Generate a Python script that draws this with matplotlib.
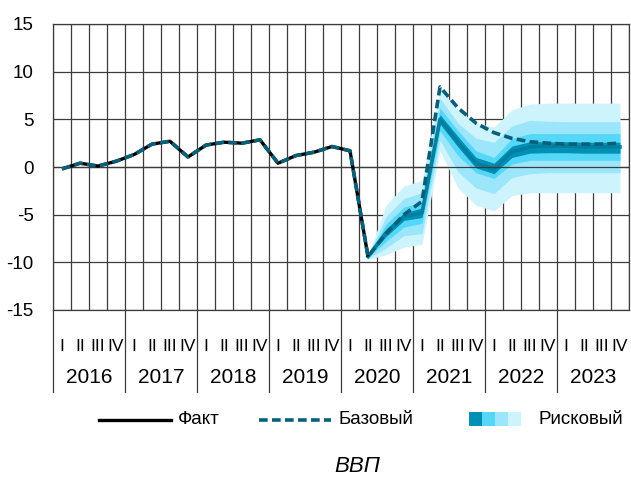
import numpy as np
import matplotlib
matplotlib.use("Agg")
import matplotlib.pyplot as plt
from matplotlib.transforms import blended_transform_factory
from matplotlib.patches import Rectangle

# quarters 2016Q1 .. 2023Q4
years = ["2016", "2017", "2018", "2019", "2020", "2021", "2022", "2023"]
quarter_names = ["I", "II", "III", "IV"]

# actual GDP, 2016Q1 .. 2020Q2
fact = [-0.2, 0.4, 0.1, 0.6, 1.3, 2.4, 2.7, 1.05, 2.3, 2.6, 2.5, 2.85,
        0.4, 1.2, 1.55, 2.15, 1.7, -9.4]

# baseline forecast, 2020Q3 .. 2023Q4
base_fc = [-7.0, -5.0, -3.6, 8.4, 6.2, 4.6, 3.6, 3.0, 2.65, 2.5,
           2.4, 2.4, 2.4, 2.5]

# risk scenario fan, 2020Q2 .. 2023Q4
median = [-9.4, -6.9, -5.2, -4.8, 5.0, 2.6, 0.4, -0.2, 1.6, 2.1, 2.2, 2.2, 2.1, 2.1, 2.1]
dark_lo = [-9.4, -7.3, -5.6, -5.3, 4.5, 2.1, -0.1, -0.7, 1.0, 1.45, 1.5, 1.5, 1.45, 1.45, 1.45]
dark_hi = [-9.4, -6.5, -4.8, -4.3, 5.5, 3.2, 1.0, 0.4, 2.2, 2.65, 2.65, 2.65, 2.6, 2.6, 2.6]
mid_lo = [-9.5, -7.8, -6.3, -5.9, 3.8, 1.2, -0.6, -1.2, 0.3, 0.7, 0.7, 0.7, 0.7, 0.7, 0.7]
mid_hi = [-9.3, -6.0, -4.2, -3.7, 6.2, 3.8, 1.7, 1.0, 3.0, 3.5, 3.5, 3.5, 3.5, 3.5, 3.5]
wide_lo = [-9.6, -8.5, -7.2, -7.0, 2.8, -0.5, -2.2, -2.8, -1.1, -0.7, -0.6, -0.6, -0.6, -0.6, -0.6]
wide_hi = [-9.3, -5.2, -3.3, -2.7, 7.2, 4.6, 3.0, 2.6, 4.3, 4.9, 4.8, 4.75, 4.75, 4.75, 4.75]
outer_lo = [-9.7, -9.2, -8.4, -8.1, 1.7, -2.2, -4.0, -4.6, -3.0, -2.7, -2.7, -2.7, -2.7, -2.7, -2.7]
outer_hi = [-9.3, -4.0, -2.0, -1.4, 8.2, 6.0, 4.6, 4.2, 6.0, 6.6, 6.7, 6.7, 6.7, 6.7, 6.7]

fan_colors = ["#cdf3fd", "#9ce6fb", "#55d7f8", "#0090b5"]
median_color = "#007fa0"
base_color = "#0a5f78"
grid_color = "#3c3c3c"

font = ["Liberation Sans", "DejaVu Sans"]

n_q = len(years) * 4
x_fact = np.arange(len(fact)) + 0.5
x_base = np.arange(len(fact) + len(base_fc)) + 0.5
x_fan = np.arange(len(fact) - 1, n_q) + 0.5
baseline = fact + base_fc

fig = plt.figure(figsize=(6.31, 4.78), dpi=100)
ax = fig.add_axes([53 / 631, 1 - 310 / 478, 576 / 631, 286 / 478])

# grid
for q in range(n_q + 1):
    ax.axvline(q, color=grid_color, lw=0.9, zorder=1)
for v in range(-15, 16, 5):
    ax.axhline(v, color=grid_color, lw=0.9, zorder=1)

# fan
bands = [(outer_lo, outer_hi), (wide_lo, wide_hi), (mid_lo, mid_hi), (dark_lo, dark_hi)]
for (lo, hi), c in zip(bands, fan_colors):
    ax.fill_between(x_fan, lo, hi, color=c, lw=0, zorder=2)
ax.plot(x_fan, median, color=median_color, lw=2.6, zorder=3)
ax.axhline(0, color=grid_color, lw=0.9, zorder=3)

ax.plot(x_fact, fact, color="black", lw=2.4, zorder=4, solid_capstyle="butt")
ax.plot(x_base, baseline, color=base_color, lw=2.6, dashes=(2.4, 1.2), zorder=5)

ax.set_xlim(0, n_q)
ax.set_ylim(-15, 15)
ax.set_yticks(range(-15, 16, 5))
ax.set_yticklabels([str(v) for v in range(-15, 16, 5)], family=font, fontsize=13.5)
ax.tick_params(axis="y", length=0, pad=14)
ax.set_xticks(np.arange(n_q) + 0.5)
ax.set_xticklabels(quarter_names * len(years), family=font, fontsize=12.5)
ax.tick_params(axis="x", length=0, pad=21)
for s in ax.spines.values():
    s.set_color(grid_color)
    s.set_linewidth(0.9)

trans = blended_transform_factory(ax.transData, ax.transAxes)
for i, y in enumerate(years):
    ax.plot([i * 4, i * 4], [0, -0.286], transform=trans, color=grid_color,
            lw=0.9, clip_on=False)
    ax.text(i * 4 + 2, -0.236, y, transform=trans, ha="center", va="center",
            family=font, fontsize=15)

# legend and caption in pixel space
ov = fig.add_axes([0, 0, 1, 1], facecolor="none")
ov.set_xlim(0, 631)
ov.set_ylim(478, 0)
ov.axis("off")
ov.plot([99, 171], [419.5, 419.5], color="black", lw=2.4)
ov.text(178, 420, "Факт", va="center", family=font, fontsize=13.5)
ov.plot([259, 331], [419.5, 419.5], color=base_color, lw=2.6, dashes=(2.4, 1.2))
ov.text(338, 420, "Базовый", va="center", family=font, fontsize=13.5)
for k, c in enumerate(fan_colors[::-1]):
    ov.add_patch(Rectangle((469 + k * 13, 412), 13, 14, color=c, lw=0))
ov.text(538, 420, "Рисковый", va="center", family=font, fontsize=13.5)
ov.text(357, 466, "ВВП", ha="center", va="center", family=font,
        fontsize=16, style="italic")

fig.savefig("out.png", dpi=100)
